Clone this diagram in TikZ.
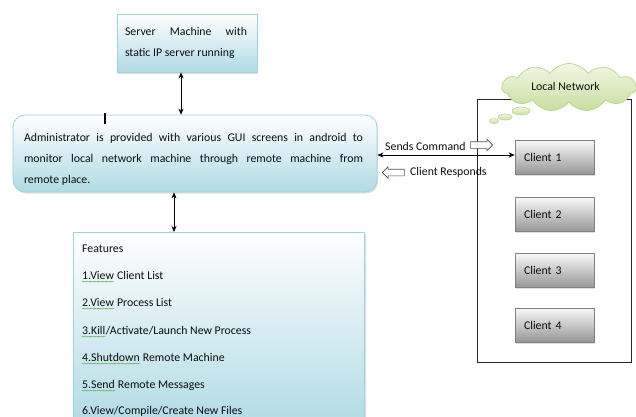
\documentclass[tikz,border=0pt]{standalone}
\usepackage{fontspec}
\setmainfont{Carlito}
\usetikzlibrary{shapes.symbols,shapes.arrows,shapes.geometric,shadows,arrows.meta,calc,decorations.pathmorphing}
\definecolor{boxblue}{RGB}{176,218,229}
\definecolor{boxedge}{RGB}{160,209,223}
\definecolor{cloudtop}{RGB}{242,247,228}
\definecolor{cloudbot}{RGB}{200,222,160}
\definecolor{cloudedge}{RGB}{186,212,142}
\definecolor{clienttop}{RGB}{248,248,248}
\definecolor{clientbot}{RGB}{150,150,150}
\definecolor{clientedge}{RGB}{128,128,128}
\definecolor{squigc}{RGB}{110,185,110}
\hbadness=10000
\tikzset{
  every node/.style={font=\fontsize{11.8}{21}\selectfont, text=black!95},
  softshadow/.style={drop shadow={shadow xshift=1.2pt, shadow yshift=-1.5pt, opacity=0.25}},
  bluebox/.style={draw=boxedge, line width=0.8pt, top color=white, bottom color=boxblue, inner sep=0pt, softshadow},
  adminbox/.style={bluebox, rounded corners=12pt},
  txt/.style={inner sep=0pt, align=justify},
  client/.style={draw=clientedge, line width=0.6pt, top color=clienttop, bottom color=clientbot,
    minimum width=79pt, minimum height=34pt, text width=61pt, inner xsep=9pt, align=left, softshadow},
  cloudshape/.style={shape=cloud, cloud puffs=11, cloud puff arc=110, aspect=2.6,
    draw=cloudedge, line width=0.7pt, top color=cloudtop, bottom color=cloudbot,
    minimum width=134pt, minimum height=48pt, inner sep=0pt},
  bubble/.style={ellipse, draw=cloudedge, line width=0.6pt, top color=cloudtop, bottom color=cloudbot, inner sep=0pt},
  dblarrow/.style={line width=0.6pt, {Stealth[length=6pt,width=5pt]}-{Stealth[length=6pt,width=5pt]}},
  hollowarrow/.style={single arrow, draw=black!70, fill=white, line width=0.6pt, inner sep=3pt,
    single arrow head extend=2.5pt, minimum height=22pt},
  lbl/.style={inner sep=0pt},
  rest/.style={lbl, anchor=base west, xshift=2.7pt},
  squig/.style={draw=squigc, line width=0.45pt, decorate, decoration={snake, amplitude=0.45pt, segment length=1.6pt}},
  netbox/.style={draw=black!85, line width=0.7pt, inner sep=0pt}
}
\begin{document}
\begin{tikzpicture}[x=1pt,y=-1pt]
\clip (0,0) rectangle (636,416);
\fill[white] (0,0) rectangle (636,416);
% server
\node[bluebox, minimum width=140pt, minimum height=58pt] (server) at (187,43) {};
\node[txt, text width=122pt] (servertext) at (186,42.5) {Server Machine with\linebreak static IP server running};
% admin
\node[adminbox, minimum width=364pt, minimum height=77pt] (admin) at (195,153.5) {};
\node[txt, text width=339pt] (admintext) at (193.5,159) {Administrator is provided with various GUI screens in android to\linebreak monitor local network machine through remote machine from\linebreak remote place.};
\draw[line width=1.5pt] (105,113) -- (105,124);
% features
\node[bluebox, anchor=north west, minimum width=291pt, minimum height=195pt] (features) at (73,232) {};
\node[lbl, anchor=base west] (f0) at (82,252) {Features};
\node[lbl, anchor=base west] (f1w) at (82,279) {1.View};
\node[rest] (f1) at (f1w.base east) {Client List};
\node[lbl, anchor=base west] (f2w) at (82,306) {2.View};
\node[rest] (f2) at (f2w.base east) {Process List};
\node[lbl, anchor=base west] (f3w) at (82,334) {3.Kill};
\node[lbl, anchor=base west] (f3) at (f3w.base east) {/Activate/Launch New Process};
\node[lbl, anchor=base west] (f4w) at (82,361) {4.Shutdown};
\node[rest] (f4) at (f4w.base east) {Remote Machine};
\node[lbl, anchor=base west] (f5w) at (82,388) {5.Send};
\node[rest] (f5) at (f5w.base east) {Remote Messages};
\node[lbl, anchor=base west] (f6) at (82,414.5) {6.View/Compile/Create New Files};
\foreach \w in {f1w,f2w,f3w,f4w,f5w}{
  \draw[squig] ([yshift=-2.6pt]\w.base west) -- ([yshift=-2.6pt]\w.base east);
}
% local network
\node[netbox, anchor=north west, minimum width=154pt, minimum height=263pt] (lan) at (477,99) {};
\node[cloudshape] (cloud) at (569,87.5) {};
\node[lbl] (cloudtext) at (565.5,86) {Local Network};
\node[bubble, minimum width=18pt, minimum height=8pt] (b1) at (521,111) {};
\node[bubble, minimum width=14pt, minimum height=6pt] (b2) at (505,117) {};
\node[bubble, minimum width=9pt, minimum height=5pt] (b3) at (494,121) {};
% clients
\node[client] (c1) at (554.5,157.5) {Client 1};
\node[client] (c2) at (554.5,214.5) {Client 2};
\node[client] (c3) at (554.5,270.5) {Client 3};
\node[client] (c4) at (554.5,325) {Client 4};
% connectors
\coordinate (sa) at (181,0);
\coordinate (af) at (174,0);
\coordinate (hy) at (0,155);
\draw[dblarrow] (server.south -| sa) -- (admin.north -| sa);
\draw[dblarrow] (admin.south -| af) -- (features.north -| af);
\draw[dblarrow] (admin.east |- hy) -- (c1.west |- hy);
% labels
\node[lbl, anchor=west] (sc) at (385,146) {Sends Command};
\node[hollowarrow] (sca) at (480,145) {};
\node[hollowarrow, shape border rotate=180] (cra) at (395,172.5) {};
\node[lbl, anchor=west] (cr) at (410,172.5) {Client Responds};
\end{tikzpicture}
\end{document}
